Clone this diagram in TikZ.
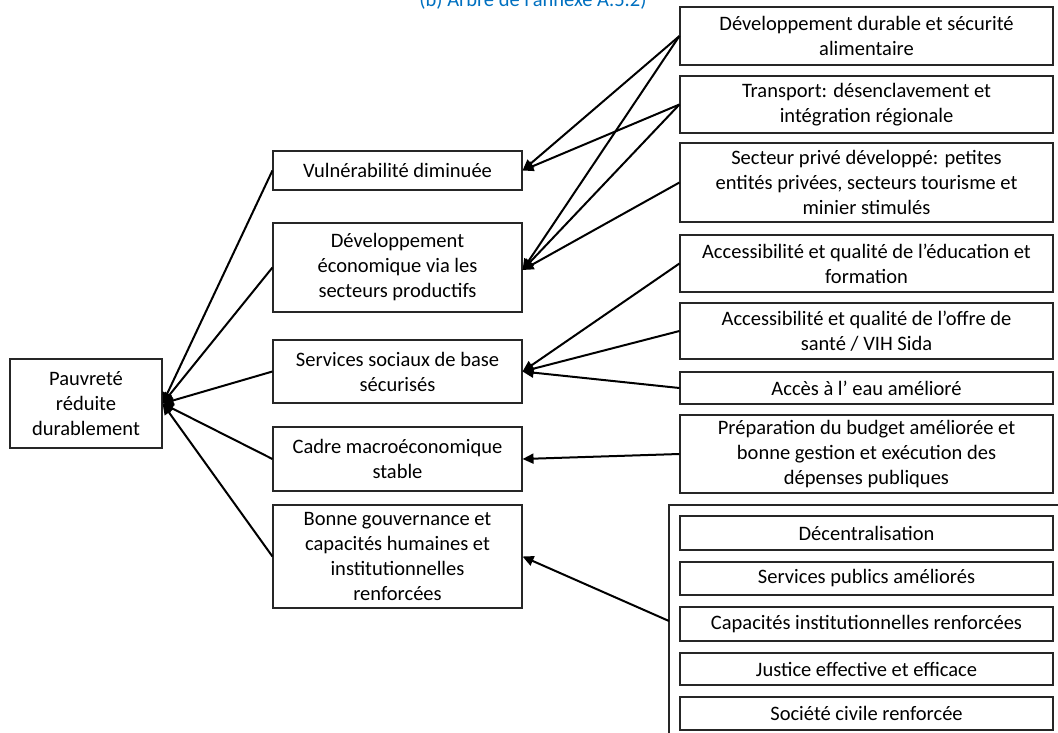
\documentclass[tikz,border=0pt]{standalone}
\usepackage{fontspec}
\setmainfont{Carlito}
\usetikzlibrary{arrows.meta}
\definecolor{linkblue}{RGB}{0,112,192}
\begin{document}
\begin{tikzpicture}[x=1pt,y=-1pt,
  box/.style={draw=black!85, line width=1.1pt, align=center, inner sep=0pt,
    font=\fontsize{20.5}{25}\selectfont},
  mid/.style={box, minimum width=249pt},
  side/.style={box, minimum width=373pt},
  link/.style={line width=2pt, -{Triangle[length=11pt,width=10pt]}},
  frameline/.style={draw=black!85, line width=1.1pt}]
\useasboundingbox (0,0) rectangle (1058,733);

% caption, cut by the page edge
\node[text=linkblue, font=\fontsize{20.5}{25}\selectfont, anchor=base] (cap) at (533,7) {(b) Arbre de l'annexe A.5.2)};

% root
\node[box, minimum width=152pt, minimum height=89pt] (P) at (86,403.5) {Pauvreté\\réduite\\durablement};

% second level
\node[mid, minimum height=39pt] (V) at (397.5,170.5) {Vulnérabilité diminuée};
\node[mid, minimum height=89pt] (D) at (397.5,267.5) {Développement\\économique via les\\secteurs productifs};
\node[mid, minimum height=63pt] (S) at (397.5,371.5) {Services sociaux de base\\sécurisés};
\node[mid, minimum height=64pt] (C) at (397.5,459) {Cadre macroéconomique\\stable};
\node[mid, minimum height=103pt] (B) at (397.5,556.5) {Bonne gouvernance et\\capacités humaines et\\institutionnelles\\renforcées};

% third level
\node[side, minimum height=58pt] (R1) at (866.5,36) {Développement durable et sécurité\\alimentaire};
\node[side, minimum height=57pt] (R2) at (866.5,104.5) {Transport: désenclavement et\\intégration régionale};
\node[side, minimum height=79pt] (R3) at (866.5,182.5) {Secteur privé développé: petites\\entités privées, secteurs tourisme  et\\minier stimulés};
\node[side, minimum height=57pt] (R4) at (866.5,263.5) {Accessibilité et qualité de l'éducation et\\formation};
\node[side, minimum height=56pt] (R5) at (866.5,331) {Accessibilité et qualité de l'offre de\\santé / VIH Sida};
\node[side, minimum height=32pt] (R6) at (866.5,388) {Accès à l' eau amélioré};
\node[side, minimum height=78pt] (R7) at (866.5,454) {Préparation du budget améliorée et\\bonne gestion et exécution des\\dépenses publiques};

% governance group
\coordinate (Gb) at (669,733);
\coordinate (Gc) at (669,505);
\coordinate (Gr) at (1058,505);
\coordinate (Gin) at (669,621);
\draw[frameline] (Gb) -- (Gc) -- (Gr);
\node[side, minimum height=34pt] (G1) at (866.5,533) {Décentralisation};
\node[side, minimum height=33pt] (G2) at (866.5,578.5) {Services publics améliorés};
\node[side, minimum height=34pt] (G3) at (866.5,624) {Capacités institutionnelles  renforcées};
\node[side, minimum height=32pt] (G4) at (866.5,669) {Justice effective et efficace};
\node[side, minimum height=33pt] (G5) at (866.5,713.5) {Société civile renforcée};

% links to the root
\foreach \n in {V,D,S,C,B} \draw[link] (\n.west) -- (P.east);

% links to the second level
\coordinate (Din) at ([yshift=-2.5pt]D.east);
\draw[link] (R1.west) -- (V.east);
\draw[link] (R2.west) -- (V.east);
\draw[link] (R1.west) -- (Din);
\draw[link] (R2.west) -- (Din);
\draw[link] (R3.west) -- (Din);
\draw[link] (R4.west) -- (S.east);
\draw[link] (R5.west) -- (S.east);
\draw[link] (R6.west) -- (S.east);
\draw[link] (R7.west) -- (C.east);
\draw[link] (Gin) -- (B.east);
\end{tikzpicture}
\end{document}
